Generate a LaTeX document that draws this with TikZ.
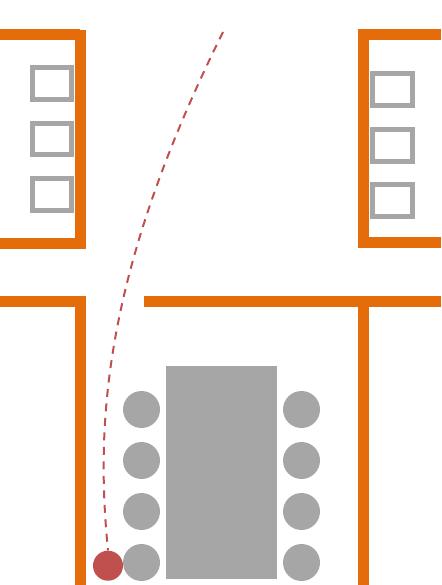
\documentclass[tikz,border=0pt]{standalone}
\definecolor{wall}{HTML}{E46C0A}
\definecolor{grayfill}{HTML}{A6A6A6}
\definecolor{redpath}{HTML}{C0504D}
\tikzset{
  wallbar/.style={fill=wall,draw=none},
  winbox/.style={draw=grayfill,line width=5pt,fill=white},
  seat/.style={circle,fill=grayfill,draw=none,minimum size=37pt,inner sep=0pt},
  person/.style={circle,fill=redpath,draw=none,minimum size=30pt,inner sep=0pt},
  route/.style={draw=redpath,line width=2pt,dash pattern=on 8pt off 6.5pt}
}
\begin{document}
\begin{tikzpicture}[x=1pt,y=-1pt]
\useasboundingbox (0,0) rectangle (441,585);
% upper left room
\fill[wallbar] (0,29) rectangle (80,40);
\fill[wallbar] (75,30) rectangle (86,249);
\fill[wallbar] (0,238) rectangle (86,249);
% upper right room
\fill[wallbar] (358,29) rectangle (369,248);
\fill[wallbar] (358,29) rectangle (441,40);
\fill[wallbar] (358,237) rectangle (441,248);
% lower walls
\fill[wallbar] (0,296) rectangle (86,307);
\fill[wallbar] (143.5,296) rectangle (441,307);
\fill[wallbar] (75,296) rectangle (86,585);
\fill[wallbar] (358,296) rectangle (369,585);
% windows
\draw[winbox] (32.5,67.5) rectangle (71.5,99.5);
\draw[winbox] (32.5,123.5) rectangle (71.5,155);
\draw[winbox] (32.5,178.5) rectangle (71.5,210.5);
\draw[winbox] (372.5,73.5) rectangle (412.5,105.5);
\draw[winbox] (372.5,129.5) rectangle (412.5,161.5);
\draw[winbox] (372.5,184.5) rectangle (412.5,216.5);
% table
\fill[grayfill] (166,366) rectangle (277,579);
% seats
\foreach \n/\yy in {a/409.5,b/460.5,c/511.5,d/562.5}{
  \node[seat] (l\n) at (141.5,\yy) {};
  \node[seat] (r\n) at (301.5,\yy) {};
}
% person and route
\node[person] (p) at (108,565.7) {};
\coordinate (goal) at (223,32);
\draw[route] (goal) .. controls (105,270) and (95,420) .. (p.north);
\end{tikzpicture}
\end{document}
